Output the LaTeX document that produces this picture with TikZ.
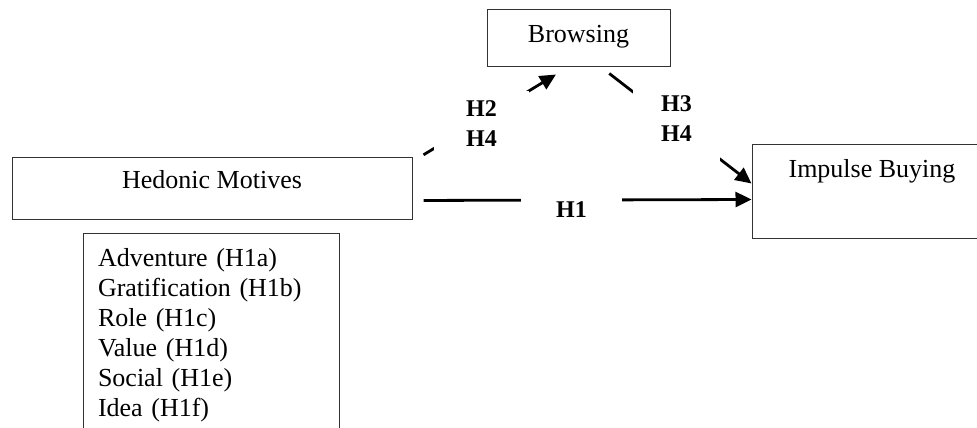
\documentclass[tikz,border=0pt]{standalone}
\usepackage{fontspec}
\setmainfont{Liberation Serif}
\usetikzlibrary{arrows.meta,calc}
\begin{document}
\begin{tikzpicture}[x=1pt,y=-1pt,
  box/.style={draw=black!80, line width=1pt, rectangle, inner sep=2pt, font=\fontsize{26}{30}\selectfont},
  conn/.style={line width=2.8pt, -{Triangle[length=16pt,width=15pt]}},
  lbl/.style={fill=white, inner sep=0pt, align=center, font=\fontsize{24}{30}\selectfont\bfseries}]
\useasboundingbox (0,0) rectangle (977,428);
% boxes
\node[box, minimum width=183, minimum height=57, text height=17pt, text depth=8pt] (br) at (578.5,38.5) {Browsing};
\node[box, minimum width=400, minimum height=62, text height=17pt, text depth=17pt] (hm) at (212,188) {Hedonic Motives};
\node[box, minimum width=240, minimum height=94, text height=17pt, text depth=45pt] (ib) at (872,191) {Impulse Buying};
\node[box, text width=226pt, inner xsep=15pt, inner ysep=0pt, minimum height=204, align=left] (lst) at (211,335)
  {Adventure (H1a)\\Gratification (H1b)\\Role (H1c)\\Value (H1d)\\Social (H1e)\\Idea (H1f)};
% connectors
\draw[conn, shorten <=12.9pt, shorten >=13.5pt] ($(hm.north east)+(0,5)$) -- ($(br.south west)+(81,0)$);
\draw[conn, shorten <=9.8pt] ($(br.south west)+(115,0)$) -- ($(ib.north west)+(0,40)$);
\draw[conn, shorten <=11pt] ($(hm.south east)+(0,-19)$) -- ($(ib.north west)+(0,56)$);
% labels
\node[lbl, minimum width=101, minimum height=26, text height=16pt, text depth=0pt] (l1) at (571.5,209) {H1};
\node[lbl, minimum width=95, minimum height=66] (l2) at (481.5,124) {H2\\H4};
\node[lbl, minimum width=87, minimum height=86] (l3) at (676.5,119) {H3\\H4};
\end{tikzpicture}
\end{document}
